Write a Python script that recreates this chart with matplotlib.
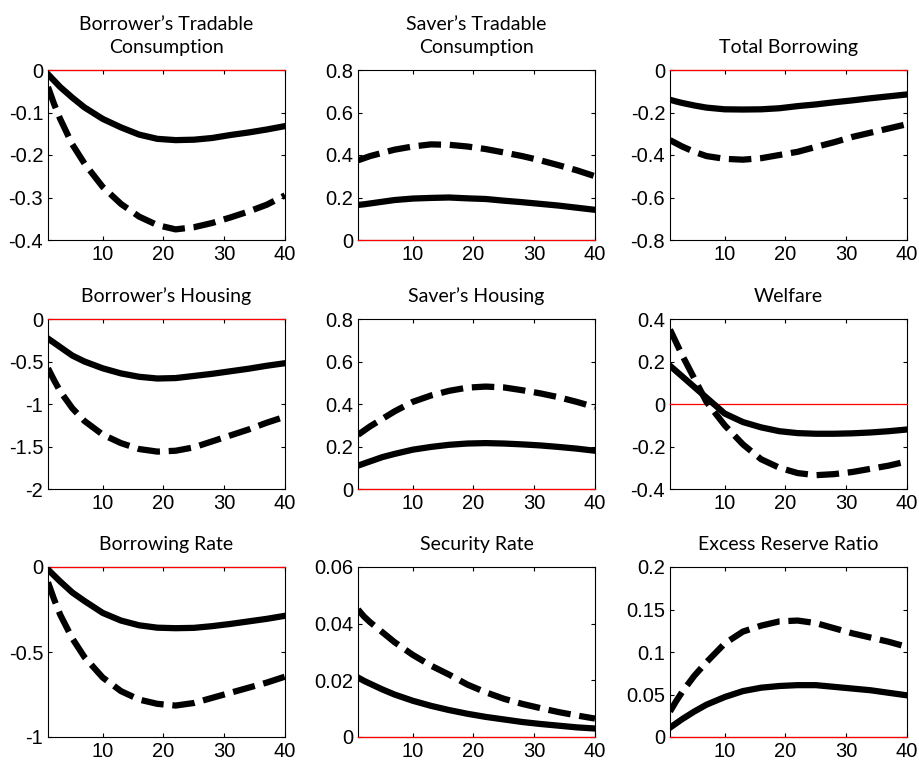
import numpy as np
import matplotlib
matplotlib.use("Agg")
import matplotlib.pyplot as plt

periods = [1, 2, 3, 5, 7, 10, 13, 16, 19, 22, 25, 28, 31, 34, 37, 40]

titles = [
    "Borrower\u2019s Tradable\nConsumption",
    "Saver\u2019s Tradable\nConsumption",
    "Total Borrowing",
    "Borrower\u2019s Housing",
    "Saver\u2019s Housing",
    "Welfare",
    "Borrowing Rate",
    "Security Rate",
    "Excess Reserve Ratio",
]

solid = [
    [-0.01, -0.025, -0.04, -0.065, -0.088, -0.115, -0.135, -0.152, -0.162, -0.165, -0.164, -0.16, -0.153, -0.147, -0.14, -0.132],
    [0.165, 0.168, 0.172, 0.18, 0.188, 0.195, 0.198, 0.2, 0.196, 0.193, 0.185, 0.178, 0.17, 0.162, 0.152, 0.142],
    [-0.14, -0.148, -0.155, -0.167, -0.177, -0.185, -0.186, -0.185, -0.18, -0.17, -0.162, -0.152, -0.143, -0.133, -0.124, -0.115],
    [-0.23, -0.28, -0.33, -0.43, -0.5, -0.58, -0.64, -0.68, -0.7, -0.695, -0.67, -0.645, -0.615, -0.585, -0.55, -0.52],
    [0.11, 0.12, 0.13, 0.15, 0.165, 0.185, 0.198, 0.208, 0.214, 0.216, 0.214, 0.21, 0.205, 0.198, 0.19, 0.18],
    [0.18, 0.155, 0.13, 0.08, 0.03, -0.045, -0.085, -0.11, -0.128, -0.137, -0.14, -0.14, -0.138, -0.134, -0.128, -0.12],
    [-0.015, -0.05, -0.085, -0.15, -0.2, -0.27, -0.315, -0.343, -0.357, -0.36, -0.358, -0.348, -0.335, -0.32, -0.305, -0.287],
    [0.021, 0.0198, 0.0188, 0.0168, 0.015, 0.0128, 0.011, 0.0095, 0.0082, 0.0071, 0.0062, 0.0053, 0.0046, 0.004, 0.0034, 0.003],
    [0.011, 0.016, 0.021, 0.03, 0.038, 0.047, 0.054, 0.058, 0.06, 0.061, 0.061, 0.059, 0.057, 0.055, 0.052, 0.049],
]

dashed = [
    [-0.04, -0.08, -0.115, -0.175, -0.22, -0.275, -0.315, -0.345, -0.365, -0.375, -0.37, -0.36, -0.347, -0.333, -0.317, -0.295],
    [0.375, 0.385, 0.395, 0.41, 0.425, 0.44, 0.45, 0.448, 0.44, 0.428, 0.412, 0.395, 0.375, 0.352, 0.328, 0.30],
    [-0.33, -0.345, -0.36, -0.385, -0.405, -0.418, -0.422, -0.415, -0.4, -0.385, -0.362, -0.34, -0.315, -0.295, -0.275, -0.255],
    [-0.58, -0.72, -0.85, -1.05, -1.2, -1.36, -1.46, -1.53, -1.56, -1.55, -1.51, -1.44, -1.37, -1.3, -1.22, -1.15],
    [0.255, 0.275, 0.295, 0.33, 0.365, 0.41, 0.44, 0.462, 0.477, 0.482, 0.478, 0.465, 0.45, 0.432, 0.41, 0.385],
    [0.35, 0.29, 0.23, 0.12, 0.01, -0.1, -0.19, -0.26, -0.3, -0.325, -0.335, -0.33, -0.32, -0.305, -0.29, -0.27],
    [-0.09, -0.19, -0.28, -0.42, -0.53, -0.65, -0.73, -0.78, -0.805, -0.815, -0.8, -0.77, -0.74, -0.71, -0.68, -0.645],
    [0.045, 0.0425, 0.0405, 0.037, 0.0335, 0.029, 0.0252, 0.022, 0.0185, 0.0158, 0.0135, 0.0117, 0.0102, 0.0088, 0.0076, 0.0065],
    [0.03, 0.042, 0.053, 0.072, 0.088, 0.11, 0.124, 0.131, 0.136, 0.137, 0.134, 0.128, 0.122, 0.117, 0.112, 0.106],
]

yticks = [
    [-0.4, -0.3, -0.2, -0.1, 0],
    [0, 0.2, 0.4, 0.6, 0.8],
    [-0.8, -0.6, -0.4, -0.2, 0],
    [-2, -1.5, -1, -0.5, 0],
    [0, 0.2, 0.4, 0.6, 0.8],
    [-0.4, -0.2, 0, 0.2, 0.4],
    [-1, -0.5, 0],
    [0, 0.02, 0.04, 0.06],
    [0, 0.05, 0.1, 0.15, 0.2],
]

xticks = [10, 20, 30, 40]

fig = plt.figure(figsize=(9.2, 7.7), dpi=100)

col_left = [48, 358, 670]
row_top = [70, 319, 567]
ax_w, ax_h = 237, 170
W, H = 920, 770

tick_font = "Liberation Sans"
title_font = ["Lato", "DejaVu Sans"]

for i in range(9):
    r, c = divmod(i, 3)
    left = col_left[c] / W
    bottom = 1 - (row_top[r] + ax_h) / H
    ax = fig.add_axes([left, bottom, ax_w / W, ax_h / H])

    ax.axhline(0, color="red", lw=0.9, zorder=3, clip_on=False)
    ax.plot(periods, solid[i], color="black", lw=4.5, solid_joinstyle="round", zorder=4)
    ax.plot(periods, dashed[i], color="black", lw=4.5, dashes=(3.6, 1.4), zorder=4)

    yt = yticks[i]
    ax.set_xlim(1, 40)
    ax.set_ylim(yt[0], yt[-1])
    ax.set_xticks(xticks)
    ax.set_xticklabels([str(t) for t in xticks], fontfamily=tick_font, fontsize=14.5)
    ax.set_yticks(yt)
    ax.set_yticklabels(["%g" % t for t in yt], fontfamily=tick_font, fontsize=14.5)
    ax.tick_params(direction="in", top=True, right=True, length=3, width=0.8, pad=3.5)
    for s in ax.spines.values():
        s.set_linewidth(0.8)

    ax.set_title(titles[i], fontfamily=title_font, fontsize=14, pad=12, linespacing=1.45)

fig.savefig("out.png", dpi=100)
